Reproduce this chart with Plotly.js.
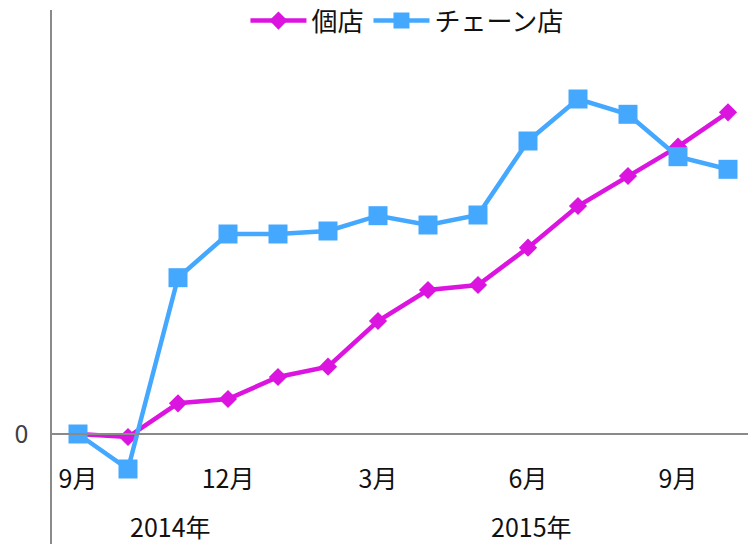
<!DOCTYPE html>
<html>
<head>
<meta charset="utf-8">
<script src="https://cdn.plot.ly/plotly-3.0.1.min.js"></script>
<style>html,body{margin:0;padding:0;background:#fff;}#chart{width:748px;height:544px;}</style>
</head>
<body>
<div id="chart"></div>
<script>
const categories = ['2014年9月','2014年10月','2014年11月','2014年12月','2015年1月','2015年2月','2015年3月','2015年4月','2015年5月','2015年6月','2015年7月','2015年8月','2015年9月','2015年10月'];
const kotenValues = [0, -0.3, 3.07, 3.5, 5.7, 6.73, 11.3, 14.4, 14.9, 18.63, 22.8, 25.8, 28.73, 32.17];
const chainValues = [0, -3.5, 15.63, 20, 20, 20.3, 21.83, 20.9, 21.9, 29.3, 33.5, 31.97, 27.73, 26.47];
const seriesNames = ['個店', 'チェーン店'];
const tickCategories = ['2014年9月','2014年12月','2015年3月','2015年6月','2015年9月'];
const tickLabels = ['9月','12月','3月','6月','9月'];
const yearLabels = ['2014年','2015年'];

const FONT = '"Noto Sans CJK JP", "Noto Sans", sans-serif';

const traces = [
  {
    x: categories, y: kotenValues, name: seriesNames[0], type: 'scatter', mode: 'lines+markers',
    line: {color: '#dc14e0', width: 4.5},
    marker: {symbol: 'diamond', size: 14, color: '#dc14e0'},
    cliponaxis: false
  },
  {
    x: categories, y: chainValues, name: seriesNames[1], type: 'scatter', mode: 'lines+markers',
    line: {color: '#45a8ff', width: 4.5},
    marker: {symbol: 'square', size: 19, color: '#45a8ff'},
    cliponaxis: false
  }
];

const yRange = [-11, 42.4];
const zeroPos = (0 - yRange[0]) / (yRange[1] - yRange[0]);

const layout = {
  width: 748, height: 544,
  margin: {l: 52, r: 0, t: 10, b: 0, autoexpand: false},
  paper_bgcolor: '#fff', plot_bgcolor: '#fff',
  font: {family: FONT, size: 25, color: '#111'},
  showlegend: true,
  legend: {
    orientation: 'h', x: 0.51, xanchor: 'center', y: 1.024, yanchor: 'top',
    itemwidth: 56, itemsizing: 'trace',
    font: {family: FONT, size: 26, color: '#111'}, bgcolor: 'rgba(0,0,0,0)'
  },
  xaxis: {
    type: 'category', categoryorder: 'array', categoryarray: categories,
    range: [-0.52, 13.4],
    anchor: 'free', position: zeroPos,
    showline: true, linecolor: '#8a8a8a', linewidth: 2,
    showgrid: false, zeroline: false, automargin: false,
    tickmode: 'array', tickvals: tickCategories, ticktext: tickLabels,
    ticks: 'outside', ticklen: 23, tickcolor: 'rgba(0,0,0,0)',
    tickfont: {family: FONT, size: 25, color: '#111'}
  },
  yaxis: {
    range: yRange,
    showline: true, linecolor: '#8a8a8a', linewidth: 1.7,
    showgrid: false, zeroline: false, automargin: false,
    tickmode: 'array', tickvals: [0], ticktext: ['0'],
    ticks: 'outside', ticklen: 17, tickcolor: 'rgba(0,0,0,0)',
    tickfont: {family: FONT, size: 25, color: '#404040'}
  },
  annotations: yearLabels.map((t, i) => ({
    text: t, xref: 'x', yref: 'y',
    x: [1.84, 9.06][i], y: -9.2,
    showarrow: false, xanchor: 'center', yanchor: 'middle',
    font: {family: FONT, size: 25, color: '#111'}
  }))
};

Plotly.newPlot('chart', traces, layout, {displayModeBar: false, staticPlot: true});
</script>
</body>
</html>
